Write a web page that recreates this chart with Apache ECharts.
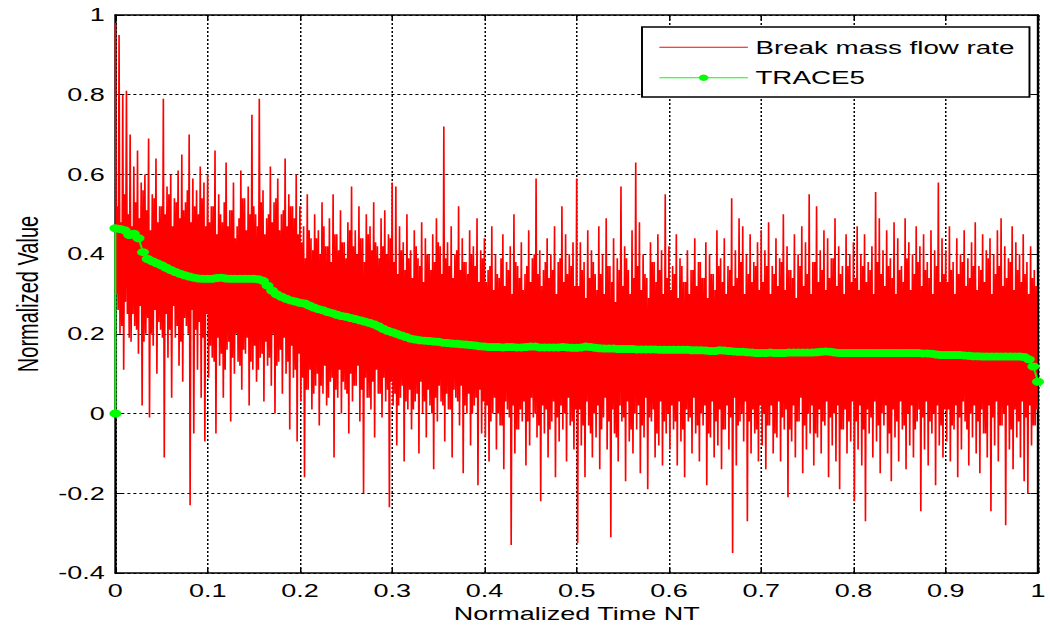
<!DOCTYPE html>
<html>
<head>
<meta charset="utf-8">
<script src="https://cdn.jsdelivr.net/npm/echarts@6/dist/echarts.min.js"></script>
<style>
  html, body { margin: 0; padding: 0; background: #fff; overflow: hidden; }
  /* The figure is laid out at 700px and widened 1.5x, like a resized plot window */
  #chart { width: 700px; height: 629px; transform: scaleX(1.5); transform-origin: 0 0; }
</style>
</head>
<body>
<div id="chart"></div>
<script>
// Break mass flow rate, sampled every 0.001 of normalized time (t = 0 ... 0.999)
const flowStep = 0.001;
const flowValues = [
  // 0.0 - 0.1
  0.98, 0.30, 0.52, 0.26, 0.95, 0.20, 0.48, 0.22, 0.80, 0.11, 0.55, 0.28, 0.81, 0.25, 0.50, 0.19, 0.70, 0.18, 0.47, 0.25,
  0.62, 0.22, 0.53, 0.21, 0.66, 0.15, 0.49, 0.27, 0.58, 0.02, 0.56, 0.18, 0.60, 0.20, 0.51, 0.24, 0.69, -0.01, 0.46, 0.20,
  0.55, 0.17, 0.54, 0.26, 0.64, 0.10, 0.48, 0.23, 0.52, 0.21, 0.52, 0.19, 0.79, -0.11, 0.50, 0.25, 0.57, 0.14, 0.55, 0.21,
  0.60, 0.04, 0.47, 0.27, 0.54, 0.19, 0.53, 0.22, 0.61, 0.12, 0.49, 0.18, 0.65, 0.08, 0.51, 0.24, 0.53, 0.22, 0.56, 0.20,
  0.70, -0.23, 0.48, 0.26, 0.59, -0.05, 0.52, 0.21, 0.56, 0.11, 0.50, 0.23, 0.62, 0.04, 0.54, 0.19, 0.58, -0.07, 0.47, 0.25,
  // 0.1 - 0.2
  0.60, 0.09, 0.48, 0.17, 0.52, 0.14, 0.52, 0.13, 0.66, -0.05, 0.45, 0.19, 0.55, 0.12, 0.50, 0.15, 0.48, 0.04, 0.53, 0.11,
  0.63, 0.16, 0.47, 0.18, 0.51, -0.02, 0.51, 0.14, 0.58, 0.10, 0.44, 0.20, 0.47, 0.13, 0.49, 0.12, 0.61, 0.06, 0.54, 0.16,
  0.54, 0.15, 0.46, 0.19, 0.57, 0.02, 0.50, 0.13, 0.75, 0.11, 0.52, 0.17, 0.50, 0.08, 0.47, 0.11, 0.79, 0.14, 0.53, 0.15,
  0.56, 0.03, 0.45, 0.18, 0.49, 0.12, 0.50, 0.14, 0.62, 0.07, 0.48, 0.20, 0.53, 0.00, 0.54, 0.12, 0.59, 0.13, 0.46, 0.16,
  0.50, 0.05, 0.51, 0.19, 0.64, 0.10, 0.47, 0.13, 0.55, -0.04, 0.52, 0.17, 0.52, 0.09, 0.49, 0.11, 0.60, -0.07, 0.45, 0.15,
  // 0.2 - 0.3
  0.52, 0.03, 0.43, 0.09, 0.47, -0.16, 0.39, 0.06, 0.55, 0.06, 0.46, 0.11, 0.44, 0.01, 0.41, 0.05, 0.50, 0.07, 0.44, 0.10,
  0.46, -0.03, 0.40, 0.07, 0.53, 0.05, 0.47, 0.12, 0.42, 0.02, 0.42, 0.04, 0.49, 0.08, 0.38, 0.09, 0.55, -0.11, 0.45, 0.06,
  0.45, 0.04, 0.41, 0.11, 0.51, 0.00, 0.43, 0.08, 0.43, 0.06, 0.39, 0.05, 0.48, -0.05, 0.46, 0.10, 0.57, 0.03, 0.42, 0.07,
  0.46, 0.07, 0.40, 0.12, 0.52, -0.02, 0.44, 0.06, 0.44, -0.20, 0.38, 0.09, 0.50, 0.04, 0.45, 0.04, 0.47, 0.01, 0.41, 0.08,
  0.53, -0.06, 0.43, 0.11, 0.42, 0.05, 0.39, 0.05, 0.49, -0.01, 0.42, 0.09, 0.51, 0.03, 0.40, 0.06, 0.45, -0.235, 0.44, 0.08,
  // 0.3 - 0.4
  0.58, 0.02, 0.38, 0.05, 0.57, -0.08, 0.35, 0.02, 0.47, 0.04, 0.41, 0.07, 0.43, -0.12, 0.36, 0.03, 0.50, 0.01, 0.39, 0.06,
  0.41, -0.04, 0.34, 0.01, 0.46, 0.03, 0.42, 0.05, 0.39, -0.10, 0.37, 0.08, 0.48, 0.00, 0.33, 0.03, 0.44, -0.06, 0.40, 0.06,
  0.40, 0.02, 0.36, 0.00, 0.45, -0.14, 0.38, 0.04, 0.49, -0.02, 0.43, 0.07, 0.42, 0.03, 0.35, 0.02, 0.72, -0.07, 0.39, 0.05,
  0.43, 0.01, 0.37, 0.01, 0.47, -0.11, 0.34, 0.06, 0.40, 0.04, 0.41, 0.03, 0.52, -0.03, 0.36, 0.07, 0.44, -0.15, 0.38, 0.02,
  0.38, 0.00, 0.35, 0.05, 0.46, -0.08, 0.40, 0.00, 0.42, 0.02, 0.37, 0.04, 0.49, -0.18, 0.33, 0.06, 0.41, -0.05, 0.39, 0.03,
  // 0.4 - 0.5
  0.44, -0.06, 0.33, 0.02, 0.36, -0.12, 0.37, -0.02, 0.47, 0.00, 0.31, 0.04, 0.40, -0.09, 0.35, 0.00, 0.34, -0.03, 0.39, -0.03,
  0.45, -0.14, 0.32, 0.03, 0.38, 0.01, 0.36, -0.01, 0.42, -0.33, 0.30, 0.02, 0.50, -0.10, 0.38, -0.04, 0.37, -0.04, 0.34, 0.01,
  0.43, -0.02, 0.31, 0.03, 0.35, -0.13, 0.37, -0.02, 0.46, -0.08, 0.33, 0.04, 0.39, -0.01, 0.40, 0.00, 0.59, -0.06, 0.35, -0.03,
  0.41, -0.22, 0.32, 0.02, 0.36, -0.05, 0.38, 0.01, 0.44, -0.11, 0.34, -0.04, 0.40, -0.02, 0.36, 0.03, 0.47, -0.16, 0.30, -0.01,
  0.38, -0.07, 0.39, 0.02, 0.52, -0.04, 0.33, 0.00, 0.45, -0.12, 0.35, 0.04, 0.40, -0.03, 0.37, -0.02, 0.43, -0.09, 0.32, 0.01,
  // 0.5 - 0.6
  0.59, -0.325, 0.32, 0.01, 0.43, -0.08, 0.36, -0.03, 0.38, -0.16, 0.29, 0.03, 0.46, -0.03, 0.34, -0.05, 0.41, -0.11, 0.38, 0.00,
  0.35, -0.06, 0.31, 0.02, 0.47, -0.14, 0.35, -0.04, 0.40, -0.01, 0.30, 0.04, 0.49, -0.09, 0.37, -0.02, 0.37, -0.31, 0.33, 0.01,
  0.44, -0.05, 0.28, -0.06, 0.39, -0.12, 0.36, 0.02, 0.57, -0.02, 0.32, -0.01, 0.42, -0.17, 0.39, 0.03, 0.36, -0.07, 0.30, -0.04,
  0.46, -0.10, 0.34, 0.00, 0.63, -0.04, 0.37, 0.02, 0.48, -0.15, 0.31, -0.03, 0.40, -0.06, 0.35, 0.04, 0.34, -0.19, 0.29, -0.01,
  0.43, -0.02, 0.38, 0.01, 0.38, -0.11, 0.33, -0.05, 0.45, -0.08, 0.36, 0.03, 0.41, -0.13, 0.30, -0.02, 0.55, -0.05, 0.34, 0.00,
  // 0.6 - 0.7
  0.42, -0.09, 0.31, 0.02, 0.37, -0.04, 0.35, -0.02, 0.45, -0.13, 0.29, 0.03, 0.39, -0.07, 0.37, -0.04, 0.33, -0.16, 0.33, 0.01,
  0.41, -0.02, 0.30, -0.01, 0.36, -0.10, 0.36, 0.04, 0.44, -0.05, 0.32, -0.03, 0.38, -0.12, 0.38, 0.00, 0.34, -0.03, 0.34, 0.02,
  0.43, -0.18, 0.29, -0.05, 0.40, -0.06, 0.35, 0.03, 0.35, -0.11, 0.31, -0.02, 0.46, -0.08, 0.37, 0.01, 0.39, -0.14, 0.33, -0.04,
  0.44, -0.04, 0.30, 0.02, 0.37, -0.09, 0.36, -0.01, 0.54, -0.35, 0.32, 0.04, 0.41, -0.13, 0.34, -0.03, 0.49, -0.02, 0.38, 0.00,
  0.47, -0.07, 0.30, 0.03, 0.40, -0.27, 0.35, -0.02, 0.45, -0.10, 0.33, 0.01, 0.38, -0.05, 0.37, -0.04, 0.43, -0.12, 0.31, 0.02,
  // 0.7 - 0.8
  0.46, -0.08, 0.33, 0.00, 0.41, -0.14, 0.37, -0.03, 0.48, -0.03, 0.30, 0.02, 0.37, -0.10, 0.35, -0.05, 0.44, -0.06, 0.32, 0.03,
  0.39, -0.12, 0.38, -0.01, 0.50, -0.04, 0.31, 0.01, 0.42, -0.21, 0.36, -0.04, 0.36, -0.07, 0.34, 0.02, 0.45, -0.11, 0.29, -0.02,
  0.40, -0.02, 0.37, 0.04, 0.47, -0.15, 0.32, -0.03, 0.43, -0.09, 0.35, 0.00, 0.55, -0.05, 0.30, 0.02, 0.38, -0.13, 0.38, -0.05,
  0.52, -0.06, 0.33, 0.01, 0.41, -0.10, 0.36, -0.02, 0.46, -0.03, 0.31, 0.03, 0.44, -0.16, 0.34, -0.01, 0.39, -0.08, 0.39, 0.00,
  0.49, -0.12, 0.32, 0.02, 0.42, -0.19, 0.35, -0.04, 0.37, -0.04, 0.30, 0.01, 0.45, -0.10, 0.37, -0.02, 0.40, -0.07, 0.33, 0.03,
  // 0.8 - 0.9
  0.43, -0.22, 0.34, -0.02, 0.47, -0.09, 0.31, 0.02, 0.40, -0.13, 0.37, -0.04, 0.45, -0.27, 0.33, 0.01, 0.38, -0.05, 0.36, -0.01,
  0.42, -0.11, 0.30, 0.03, 0.556, -0.07, 0.38, -0.03, 0.49, -0.15, 0.35, 0.00, 0.41, -0.03, 0.32, 0.02, 0.46, -0.10, 0.37, -0.05,
  0.39, -0.17, 0.34, 0.01, 0.48, -0.06, 0.30, -0.02, 0.44, -0.12, 0.36, 0.03, 0.37, -0.04, 0.33, -0.03, 0.49, -0.14, 0.39, 0.00,
  0.43, -0.08, 0.31, 0.02, 0.40, -0.11, 0.35, -0.04, 0.47, -0.02, 0.38, 0.01, 0.42, -0.245, 0.32, -0.01, 0.45, -0.09, 0.36, 0.03,
  0.38, -0.13, 0.34, -0.02, 0.46, -0.05, 0.30, 0.00, 0.41, -0.18, 0.37, 0.02, 0.58, -0.08, 0.33, -0.03, 0.44, -0.11, 0.35, 0.01,
  // 0.9 - 1.0
  0.41, -0.07, 0.33, 0.01, 0.47, -0.12, 0.36, -0.03, 0.38, -0.04, 0.30, 0.02, 0.44, -0.16, 0.35, -0.01, 0.40, -0.09, 0.38, 0.03,
  0.46, -0.02, 0.32, -0.04, 0.39, -0.13, 0.34, 0.00, 0.43, -0.06, 0.37, 0.02, 0.48, -0.10, 0.31, -0.02, 0.37, -0.15, 0.36, 0.01,
  0.45, -0.05, 0.33, -0.05, 0.41, -0.11, 0.39, 0.02, 0.44, -0.245, 0.30, -0.01, 0.40, -0.08, 0.35, 0.03, 0.46, -0.12, 0.37, -0.03,
  0.49, -0.03, 0.32, 0.00, 0.42, -0.28, 0.34, 0.02, 0.39, -0.09, 0.38, -0.04, 0.47, -0.14, 0.31, 0.01, 0.43, -0.06, 0.36, -0.02,
  0.40, -0.11, 0.33, 0.03, 0.45, -0.17, 0.35, -0.01, 0.38, -0.20, 0.30, 0.02, 0.42, -0.08, 0.34, -0.03, 0.36, -0.03, 0.32, 0.01
];

// TRACE5 prediction: starts from zero, then sampled every 0.005 (t = 0 ... 1)
const traceOrigin = 0;
const traceStep = 0.005;
const traceValues = [
  0.465, 0.463, 0.460, 0.448, 0.451, 0.440, 0.405, 0.388, 0.382, 0.377,
  0.372, 0.366, 0.360, 0.355, 0.351, 0.347, 0.344, 0.341, 0.339, 0.338,
  0.338, 0.338, 0.340, 0.341, 0.339, 0.338, 0.338, 0.338, 0.338, 0.338,
  0.338, 0.337, 0.333, 0.321, 0.308, 0.299, 0.293, 0.288, 0.284, 0.281,
  0.278, 0.276, 0.271, 0.266, 0.262, 0.259, 0.255, 0.252, 0.248, 0.245,
  0.243, 0.240, 0.237, 0.234, 0.231, 0.228, 0.224, 0.219, 0.213, 0.208,
  0.204, 0.200, 0.196, 0.192, 0.188, 0.186, 0.184, 0.183, 0.182, 0.181,
  0.180, 0.178, 0.177, 0.176, 0.175, 0.174, 0.173, 0.172, 0.171, 0.169,
  0.168, 0.167, 0.167, 0.167, 0.166, 0.167, 0.167, 0.166, 0.166, 0.167,
  0.168, 0.168, 0.166, 0.166, 0.166, 0.166, 0.166, 0.167, 0.166, 0.165,
  0.165, 0.166, 0.168, 0.167, 0.165, 0.164, 0.163, 0.163, 0.163, 0.162,
  0.162, 0.162, 0.162, 0.161, 0.161, 0.161, 0.161, 0.161, 0.160, 0.160,
  0.160, 0.160, 0.160, 0.160, 0.160, 0.159, 0.159, 0.159, 0.158, 0.157,
  0.157, 0.159, 0.158, 0.157, 0.156, 0.155, 0.155, 0.154, 0.153, 0.152,
  0.152, 0.152, 0.153, 0.152, 0.152, 0.152, 0.153, 0.153, 0.153, 0.153,
  0.153, 0.153, 0.154, 0.155, 0.156, 0.155, 0.153, 0.152, 0.152, 0.152,
  0.152, 0.152, 0.152, 0.152, 0.152, 0.152, 0.152, 0.152, 0.152, 0.152,
  0.152, 0.152, 0.152, 0.152, 0.152, 0.151, 0.151, 0.150, 0.148, 0.147,
  0.147, 0.147, 0.147, 0.147, 0.146, 0.145, 0.144, 0.144, 0.143, 0.143,
  0.143, 0.143, 0.143, 0.143, 0.143, 0.143, 0.143, 0.142, 0.136, 0.118,
  0.080, 0.064
];

const xTickLabels = ['0', '0.1', '0.2', '0.3', '0.4', '0.5', '0.6', '0.7', '0.8', '0.9', '1'];
const yTickLabels = ['-0.4', '-0.2', '0', '0.2', '0.4', '0.6', '0.8', '1'];

const seriesNames = ['Break mass flow rate', 'TRACE5'];
const axisNames = { x: 'Normalized Time NT', y: 'Normalized Value' };

const FLOW_COLOR = '#ff0000';
const TRACE_COLOR = '#00ff00';

const flowData = flowValues.map((v, i) => [i * flowStep, v]);
const traceData = [[0, traceOrigin]].concat(traceValues.map((v, i) => [i * traceStep, v]));

const FONT = "'Liberation Sans', Arial, Helvetica, sans-serif";
const BLACK = '#000';

function frameAxis(extra) {
  return Object.assign({
    type: 'value',
    axisLine: { show: true, onZero: false, lineStyle: { color: BLACK, width: 1.6 } },
    axisTick: { show: true, inside: true, length: 5, lineStyle: { color: BLACK, width: 1 } },
    splitLine: { show: false },
    axisLabel: { show: false }
  }, extra);
}

const chart = echarts.init(document.getElementById('chart'), null, { renderer: 'svg' });

chart.setOption({
  animation: false,
  backgroundColor: '#fff',
  textStyle: { fontFamily: FONT },
  grid: { left: 74, right: 5.33, top: 15, bottom: 56, containLabel: false },
  legend: {
    orient: 'vertical',
    left: 428,
    top: 27,
    padding: [10.75, 10, 9.75, 11],
    itemWidth: 59,
    itemHeight: 8,
    itemGap: 11.5,
    backgroundColor: '#fff',
    borderColor: BLACK,
    borderWidth: 1.3,
    borderRadius: 0,
    textStyle: { fontSize: 18.5, color: BLACK, fontFamily: FONT },
    data: [
      {
        name: seriesNames[0],
        itemStyle: { opacity: 0 },
        lineStyle: { color: FLOW_COLOR, width: 1.2, opacity: 1 }
      },
      {
        name: seriesNames[1],
        itemStyle: { color: TRACE_COLOR },
        lineStyle: { color: TRACE_COLOR, width: 1.2 }
      }
    ]
  },
  xAxis: [
    frameAxis({
      min: 0, max: 1, interval: 0.1, position: 'bottom',
      name: axisNames.x, nameLocation: 'middle', nameGap: 27,
      nameTextStyle: { fontSize: 18, color: BLACK, fontFamily: FONT },
      axisLabel: {
        show: true, margin: 9, fontSize: 18, color: BLACK, fontFamily: FONT,
        formatter: v => xTickLabels[Math.round(v / 0.1)]
      },
      splitLine: { show: true, lineStyle: { color: BLACK, width: 1, type: [2, 2] } }
    }),
    frameAxis({ min: 0, max: 1, interval: 0.1, position: 'top' })
  ],
  yAxis: [
    frameAxis({
      min: -0.4, max: 1, interval: 0.2, position: 'left',
      name: axisNames.y, nameLocation: 'middle', nameGap: 47, nameRotate: 90,
      nameTextStyle: { fontSize: 20, color: BLACK, fontFamily: FONT },
      axisLabel: {
        show: true, margin: 7, fontSize: 18, color: BLACK, fontFamily: FONT,
        formatter: v => yTickLabels[Math.round((v + 0.4) / 0.2)]
      },
      splitLine: { show: true, lineStyle: { color: BLACK, width: 1, type: [2, 2] } }
    }),
    frameAxis({ min: -0.4, max: 1, interval: 0.2, position: 'right' })
  ],
  series: [
    {
      name: seriesNames[0],
      type: 'line',
      data: flowData,
      symbol: 'none',
      showSymbol: false,
      sampling: null,
      lineStyle: { color: FLOW_COLOR, width: 1.1 },
      itemStyle: { color: FLOW_COLOR },
      z: 2
    },
    {
      name: seriesNames[1],
      type: 'line',
      data: traceData,
      symbol: 'circle',
      symbolSize: 8,
      showSymbol: true,
      lineStyle: { color: TRACE_COLOR, width: 1.3 },
      itemStyle: { color: TRACE_COLOR },
      z: 3
    }
  ]
});
</script>
</body>
</html>
